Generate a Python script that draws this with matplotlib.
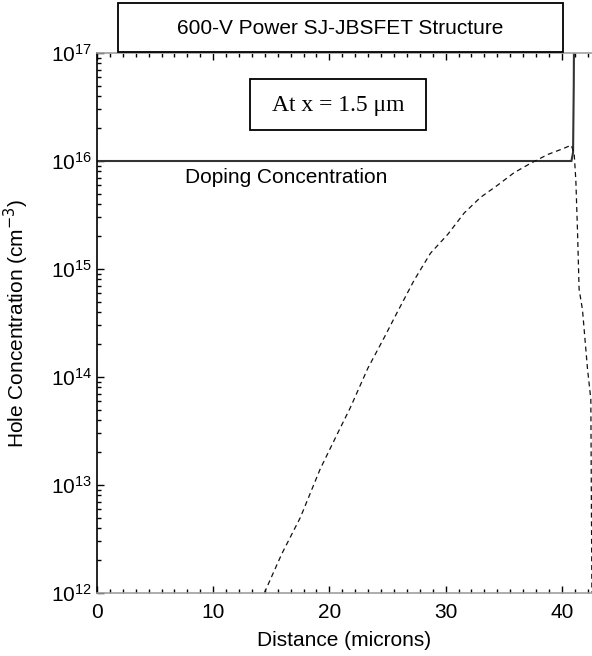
import matplotlib
matplotlib.use("Agg")
import matplotlib.pyplot as plt
from matplotlib.patches import Rectangle
from matplotlib.ticker import MultipleLocator, LogLocator, NullFormatter

plt.rcParams['font.family'] = ['Liberation Sans', 'DejaVu Sans']

# hole concentration (dashed curve)
distance = [14.4, 15.9, 17.5, 19.2, 20.7, 21.8, 23.3, 24.7, 25.8, 27.3, 28.7,
            30.2, 31.6, 33.0, 34.5, 35.9, 37.3, 38.8, 40.1, 40.8, 41.06, 41.21,
            41.35, 41.49, 41.78, 42.21, 42.5, 42.59]
hole_conc = [1.0e12, 2.3e12, 5.0e12, 1.4e13, 3.0e13, 5.2e13, 1.2e14, 2.3e14,
             3.9e14, 7.9e14, 1.4e15, 2.1e15, 3.3e15, 4.6e15, 6.0e15, 7.8e15,
             9.5e15, 1.15e16, 1.3e16, 1.4e16, 1.2e16, 6.6e15, 2.3e15, 6.5e14,
             4.2e14, 1.2e14, 6.2e13, 1.0e12]

# doping profile (solid line)
dop_distance = [0.0, 40.83, 40.97, 41.03, 41.06]
dop_conc = [1e16, 1e16, 1.2e16, 5e16, 2e17]

W, H = 592, 656
fig = plt.figure(figsize=(W / 100, H / 100), dpi=100)
ax = fig.add_axes([97 / W, 63 / H, 495 / W, 540 / H])

ax.plot(dop_distance, dop_conc, color='#333333', lw=1.5, solid_joinstyle='miter')
ax.plot(distance, hole_conc, color='#111111', lw=0.9, ls=(0, (4, 3)))

ax.set_yscale('log')
ax.set_xlim(0, 42.6)
ax.set_ylim(1e12, 1e17)

ax.xaxis.set_major_locator(MultipleLocator(10))
ax.xaxis.set_minor_locator(MultipleLocator(10 / 9))
ax.yaxis.set_major_locator(LogLocator(base=10, numticks=10))
ax.yaxis.set_minor_locator(LogLocator(base=10, subs=range(2, 10), numticks=10))
ax.yaxis.set_minor_formatter(NullFormatter())

ax.tick_params(which='both', direction='in', top=True, right=False,
               labelsize=15, color='black')
ax.tick_params(which='major', length=5, width=1)
ax.tick_params(which='minor', length=3, width=1)
ax.tick_params(axis='x', pad=7)

ax.spines['right'].set_visible(False)
ax.spines['left'].set_color('black')
ax.spines['left'].set_linewidth(1.2)
for s in ('top', 'bottom'):
    ax.spines[s].set_color('#a0a0a0')
    ax.spines[s].set_linewidth(1.2)

ax.set_xlabel('Distance (microns)', fontsize=15, labelpad=7)
ax.set_ylabel('Hole Concentration (cm$^{-3}$)', fontsize=15, labelpad=14)

ax.text(7.6, 7.0e15, 'Doping Concentration', fontsize=15, va='center', ha='left')

# title box and inset label box (pixel positions from the reference)
fig.patches.append(Rectangle((118 / W, 1 - 52 / H), 445 / W, 49 / H,
                             transform=fig.transFigure, fc='white', ec='black',
                             lw=1.3))
fig.text(340 / W, 1 - 28 / H, '600-V Power SJ-JBSFET Structure',
         fontsize=15, ha='center', va='center')

fig.patches.append(Rectangle((250 / W, 1 - 130 / H), 176 / W, 51 / H,
                             transform=fig.transFigure, fc='white', ec='black',
                             lw=1.3, zorder=3))
fig.text(338 / W, 1 - 105 / H, 'At x = 1.5 \u03bcm', fontsize=17,
         family=['Liberation Serif', 'DejaVu Serif'], ha='center', va='center',
         zorder=4)

fig.savefig('out.png', dpi=100)
